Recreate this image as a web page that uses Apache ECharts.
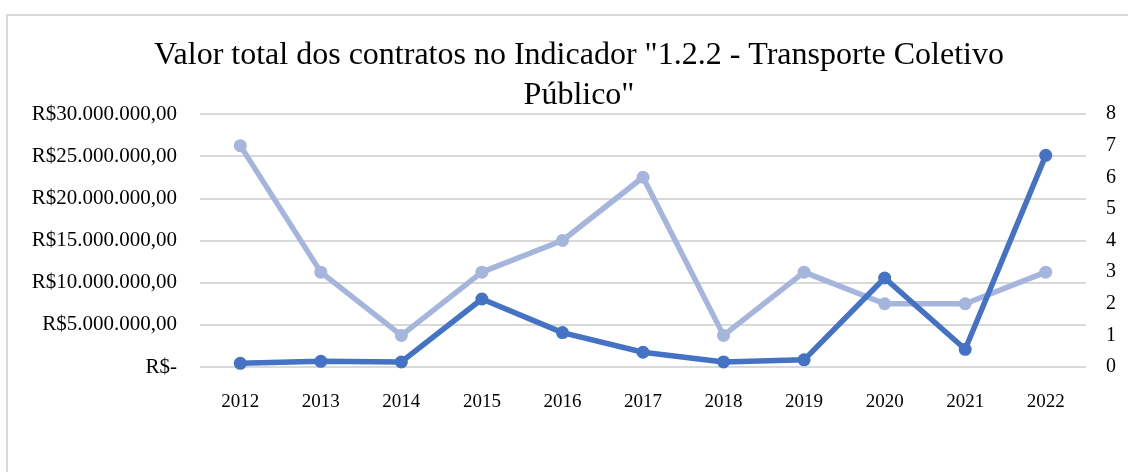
<!DOCTYPE html>
<html>
<head>
<meta charset="utf-8">
<script src="https://cdn.jsdelivr.net/npm/echarts@6/dist/echarts.min.js"></script>
<style>
  html, body { margin: 0; padding: 0; background: #fff; }
  #chart { width: 1128px; height: 472px; position: relative; }
  .frame {
    position: absolute; left: 6px; top: 14px; width: 1140px; height: 500px;
    border: 2px solid #d9d9d9; box-sizing: border-box; pointer-events: none;
  }
</style>
</head>
<body>
<div class="frame"></div>
<div id="chart"></div>
<script>
// data
const years = ['2012', '2013', '2014', '2015', '2016', '2017', '2018', '2019', '2020', '2021', '2022'];
const totalValue = [430000, 670000, 600000, 8060000, 4080000, 1750000, 600000, 850000, 10550000, 2100000, 25100000];
const contractCount = [7, 3, 1, 3, 4, 6, 1, 3, 2, 2, 3];
const titleText = 'Valor total dos contratos no Indicador "1.2.2 - Transporte Coletivo\nPúblico"';

const serif = '"Liberation Serif", "Times New Roman", serif';

function brl(v) {
  if (v === 0) return 'R$-';
  const s = Math.round(v).toString().replace(/\B(?=(\d{3})+(?!\d))/g, '.');
  return 'R$' + s + ',00';
}

const chart = echarts.init(document.getElementById('chart'));

chart.setOption({
  animation: false,
  title: {
    text: titleText,
    left: 574,
    top: 31,
    textAlign: 'center',
    textStyle: { fontFamily: serif, fontSize: 32, fontWeight: 'normal', color: '#000', lineHeight: 40 },
  },
  grid: { left: 200, right: 42, top: 114, bottom: 105 },
  xAxis: {
    type: 'category',
    data: years,
    boundaryGap: true,
    axisLine: { show: false },
    axisTick: { show: false },
    axisLabel: { color: '#000', fontFamily: serif, fontSize: 19, margin: 26 },
  },
  yAxis: [
    {
      type: 'value',
      min: 0,
      max: 30000000,
      interval: 5000000,
      position: 'left',
      axisLine: { show: false },
      axisTick: { show: false },
      splitLine: { lineStyle: { color: '#d9d9d9', width: 2 } },
      axisLabel: { color: '#000', fontFamily: serif, fontSize: 21, margin: 23, formatter: brl },
    },
    {
      type: 'value',
      min: 0,
      max: 8,
      interval: 1,
      position: 'right',
      axisLine: { show: false },
      axisTick: { show: false },
      splitLine: { show: false },
      axisLabel: { color: '#000', fontFamily: serif, fontSize: 20, margin: 20 },
    },
  ],
  series: [
    {
      type: 'line',
      yAxisIndex: 1,
      data: contractCount,
      symbol: 'circle',
      symbolSize: 13,
      lineStyle: { color: '#a5b5dd', width: 5.5 },
      itemStyle: { color: '#a5b5dd' },
      z: 2,
    },
    {
      type: 'line',
      yAxisIndex: 0,
      data: totalValue,
      symbol: 'circle',
      symbolSize: 13,
      lineStyle: { color: '#4472c4', width: 5.5 },
      itemStyle: { color: '#4472c4' },
      z: 3,
    },
  ],
});
</script>
</body>
</html>
